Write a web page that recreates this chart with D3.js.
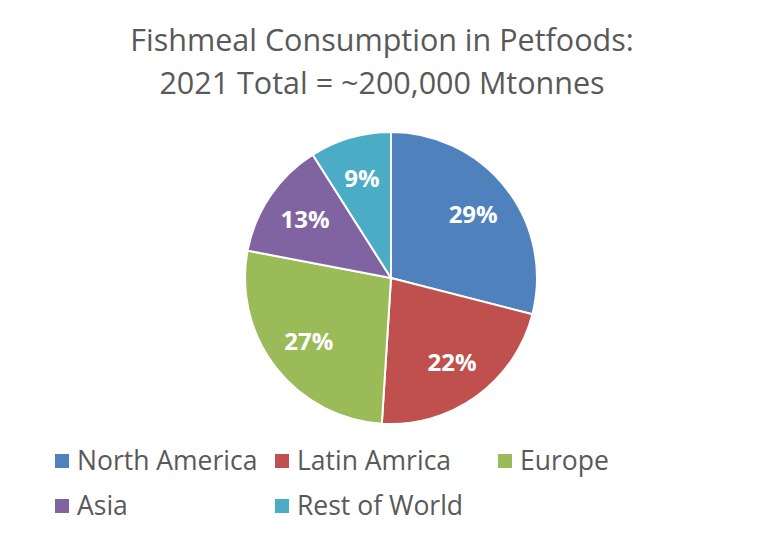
<!DOCTYPE html>
<html><head><meta charset="utf-8">
<script src="https://cdn.jsdelivr.net/npm/d3@7"></script>
<style>body{margin:0;background:#fff}text{font-family:"Open Sans",sans-serif}</style>
</head><body><svg id="chart" width="765" height="550"></svg>
<script>
const regions = ['North America', 'Latin Amrica', 'Europe', 'Asia', 'Rest of World'];
const shares = [29, 22, 27, 13, 9];
const colors = ['#4F81BD', '#C0504D', '#9BBB59', '#8064A2', '#4BACC6'];
const titleLines = ['Fishmeal Consumption in Petfoods:', '2021 Total = ~200,000 Mtonnes'];

const svg = d3.select('#chart');
const cx = 391, cy = 278, r = 146;

svg.selectAll('text.title').data(titleLines).enter().append('text')
  .attr('x', 382).attr('y', (d, i) => 51 + i * 43)
  .attr('text-anchor', 'middle').attr('font-size', 30.5).attr('fill', '#595959')
  .text(d => d);

const pie = d3.pie().sort(null).value(d => d)(shares);
const arc = d3.arc().innerRadius(0).outerRadius(r);
const labelArc = d3.arc().innerRadius(104).outerRadius(104);
const g = svg.append('g').attr('transform', `translate(${cx},${cy})`);

g.selectAll('path').data(pie).enter().append('path')
  .attr('d', arc).attr('fill', (d, i) => colors[i])
  .attr('stroke', '#fff').attr('stroke-width', 2);

g.selectAll('text').data(pie).enter().append('text')
  .attr('transform', d => `translate(${labelArc.centroid(d)})`)
  .attr('text-anchor', 'middle').attr('dy', '0.35em')
  .attr('font-size', 24).attr('font-weight', 'bold').attr('fill', '#fff')
  .text(d => d.data + '%');

// legend
const legX = [55, 275, 498];
const leg = svg.selectAll('g.leg').data(regions).enter().append('g')
  .attr('transform', (d, i) => `translate(${legX[i % 3]},${461 + Math.floor(i / 3) * 45})`);
leg.append('rect').attr('x', 0).attr('y', -7).attr('width', 14).attr('height', 14)
  .attr('fill', (d, i) => colors[i]);
leg.append('text').attr('x', 22).attr('dy', '0.35em').attr('font-size', 26.5)
  .attr('fill', '#595959').text(d => d);
</script></body></html>
